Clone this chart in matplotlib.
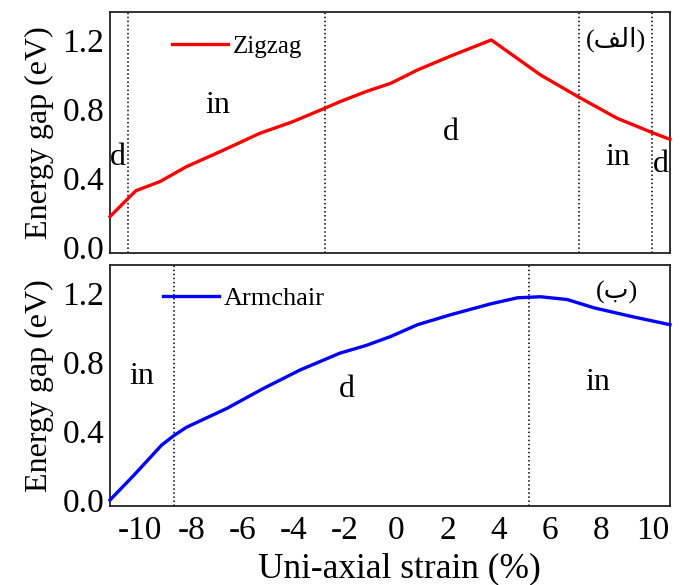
import matplotlib

matplotlib.use("Agg")
import matplotlib.pyplot as plt

# Band gap of the ribbons under uni-axial strain
zigzag_strain = [-11.17, -10.46, -10.16, -9.22, -8.18, -6.88, -5.32, -4.04, -2.79,
                 -2.20, -1.19, -0.21, 0.83, 2.13, 3.71, 5.63, 7.13, 8.62, 9.99, 10.68]
zigzag_gap = [0.176, 0.282, 0.326, 0.379, 0.466, 0.552, 0.659, 0.726, 0.804,
              0.842, 0.900, 0.949, 1.026, 1.107, 1.200, 0.997, 0.868, 0.746, 0.663, 0.624]

armchair_strain = [-11.17, -10.26, -9.15, -8.67, -8.18, -6.62, -5.19, -3.76, -2.20,
                   -1.19, -0.21, 0.83, 2.13, 3.69, 4.73, 5.63, 6.67, 7.71, 9.14, 10.68]
armchair_gap = [0.0, 0.140, 0.319, 0.374, 0.422, 0.530, 0.646, 0.753, 0.851,
                0.895, 0.948, 1.016, 1.074, 1.137, 1.172, 1.178, 1.162, 1.114, 1.065, 1.016]

# strains where the gap switches between direct (d) and indirect (in)
zigzag_edges = [-10.46, -2.79, 7.13, 9.99]
armchair_edges = [-8.67, 5.20]

x_ticks = [-10, -8, -6, -4, -2, 0, 2, 4, 6, 8, 10]
y_ticks = [0.0, 0.4, 0.8, 1.2]

SERIF = ["Liberation Serif", "DejaVu Serif"]
ARABIC = ["Liberation Serif", "DejaVu Sans"]
plt.rcParams["font.family"] = SERIF

fig = plt.figure(figsize=(6.82, 5.85), dpi=100)
ax_top = fig.add_axes([0.1613, 0.5675, 0.821, 0.412])
ax_bot = fig.add_axes([0.1613, 0.135, 0.821, 0.412])


def style(ax):
    ax.set_xlim(-11.17, 10.68)
    ax.set_ylim(-0.035, 1.362)
    ax.set_xticks(x_ticks)
    ax.set_yticks(y_ticks)
    ax.set_yticklabels([f"{v:.1f}" for v in y_ticks])
    ax.tick_params(length=0, labelsize=24)
    ax.tick_params(axis="x", pad=7)
    ax.tick_params(axis="y", pad=4)
    for sp in ax.spines.values():
        sp.set_linewidth(1.3)
        sp.set_color("#222222")
    ax.set_ylabel("Energy gap (eV)", fontsize=23, labelpad=6)


# top: zigzag
ax_top.plot(zigzag_strain, zigzag_gap, color="#ff0000", lw=2.4, label="Zigzag",
            solid_joinstyle="round", clip_on=False, zorder=3)
for x in zigzag_edges:
    ax_top.axvline(x, color="black", ls=":", lw=1.1)
for txt, x, y in [("d", -10.86, 0.475), ("in", -6.96, 0.777), ("d", 2.12, 0.62),
                  ("in", 8.64, 0.475), ("d", 10.31, 0.435)]:
    ax_top.text(x, y, txt, fontsize=23, ha="center", va="baseline")
ax_top.text(8.56, 1.205, "(\ufed2\ufedf\ufe8d)", fontsize=19, ha="center", va="center",
            family=ARABIC)
style(ax_top)
ax_top.set_xticklabels([])
ax_top.legend(loc="center left", bbox_to_anchor=(0.11, 0.855), frameon=False,
              fontsize=18, handlelength=2.25, handletextpad=0.2, borderpad=0,
              borderaxespad=0)

# bottom: armchair
ax_bot.plot(armchair_strain, armchair_gap, color="#0000ff", lw=2.4, label="Armchair",
            solid_joinstyle="round", clip_on=False, zorder=3)
for x in armchair_edges:
    ax_bot.axvline(x, color="black", ls=":", lw=1.1)
for txt, x, y in [("in", -9.92, 0.672), ("d", -1.93, 0.596), ("in", 7.86, 0.636)]:
    ax_bot.text(x, y, txt, fontsize=23, ha="center", va="baseline")
ax_bot.text(8.6, 1.205, "(\ufe8f)", fontsize=19, ha="center", va="center", family=ARABIC)
style(ax_bot)
ax_bot.set_xticklabels([str(t) for t in x_ticks])
ax_bot.set_xlabel("Uni-axial strain (%)", fontsize=25.5)
ax_bot.xaxis.set_label_coords(0.516, -0.295)
ax_bot.xaxis.label.set_va("baseline")
ax_bot.legend(loc="center left", bbox_to_anchor=(0.095, 0.863), frameon=False,
              fontsize=19, handlelength=2.1, handletextpad=0.2, borderpad=0,
              borderaxespad=0)

fig.savefig("out.png", dpi=100)
